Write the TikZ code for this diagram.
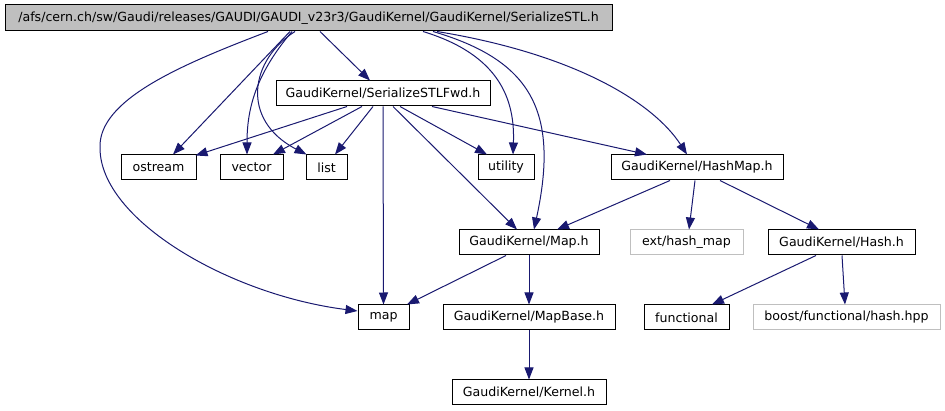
\documentclass[tikz,border=0pt]{standalone}
\usepackage{fontspec}
\setmainfont{DejaVu Sans}
\usetikzlibrary{arrows.meta,calc}
\definecolor{edgeblue}{HTML}{191970}
\definecolor{grayfill}{HTML}{BFBFBF}
\definecolor{graybord}{HTML}{BFBFBF}
\begin{document}
\begin{tikzpicture}[x=1pt,y=-1pt,
  box/.style={draw=black,line width=1pt,inner sep=0pt,minimum height=25pt,font=\fontsize{12.6}{14}\selectfont,anchor=center},
  graybox/.style={box,draw=graybord},
  dep/.style={draw=edgeblue,line width=1pt,-{Triangle[length=12pt,width=9pt]},edgeblue}]
\useasboundingbox (0,0) rectangle (945,411);
\node[box,fill=grayfill,minimum width=607pt,minimum height=26pt] (top) at (308.5,18) {/afs/cern.ch/sw/Gaudi/releases/GAUDI/GAUDI\_v23r3/GaudiKernel/GaudiKernel/SerializeSTL.h};
\node[box,minimum width=214pt] (fwd) at (383,93.5) {GaudiKernel/SerializeSTLFwd.h};
\node[box,minimum width=75pt] (ostream) at (158.5,167.5) {ostream};
\node[box,minimum width=63pt] (vector) at (251.5,167.5) {vector};
\node[box,minimum width=41pt] (list) at (326.5,167.5) {list};
\node[box,minimum width=56pt] (utility) at (506,167.5) {utility};
\node[box,minimum width=172pt] (hashmap) at (697,167.5) {GaudiKernel/HashMap.h};
\node[box,minimum width=140pt] (maph) at (529,242.5) {GaudiKernel/Map.h};
\node[graybox,minimum width=113pt] (ext) at (686.5,242.5) {ext/hash\_map};
\node[box,minimum width=147pt] (hash) at (841.5,242.5) {GaudiKernel/Hash.h};
\node[box,minimum width=51pt] (map) at (383.5,317.5) {map};
\node[box,minimum width=172pt] (mapbase) at (529,317.5) {GaudiKernel/MapBase.h};
\node[box,minimum width=85pt] (functional) at (686.5,317.5) {functional};
\node[graybox,minimum width=187pt] (boost) at (846.5,317.5) {boost/functional/hash.hpp};
\node[box,minimum width=154pt] (kernel) at (529,392.5) {GaudiKernel/Kernel.h};
% from top
\draw[dep] ($(top.south)+(11.5,0)$) -- ($(fwd.north)+(-13,0)$);
\draw[dep] ($(top.south)+(-18.5,0)$) -- ($(ostream.north)+(14.5,0)$);
\draw[dep] ($(top.south)+(-16.5,0)$) .. controls (255,75) and (247,110) .. ($(vector.north)+(-4.5,0)$);
\draw[dep] ($(top.south)+(-13.5,0)$) .. controls (250,60) and (240,120) .. ($(list.north west)+(1,0)$);
\draw[dep] ($(top.south)+(-40.5,0)$) .. controls (180,65) and (98,100) .. (100,148) .. controls (100,220) and (230,295) .. ($(map.west)+(0,-6.5)$);
\draw[dep] ($(top.south)+(114.5,0)$) .. controls (500,55) and (515,100) .. ($(utility.north)+(7,0)$);
\draw[dep] ($(top.south)+(124.5,0)$) .. controls (530,60) and (560,110) .. ($(maph.north)+(5,0)$);
\draw[dep] ($(top.south)+(128.5,0)$) .. controls (580,55) and (655,105) .. ($(hashmap.north)+(-10,0)$);
% from fwd
\draw[dep] ($(fwd.south)+(-36,0)$) -- ($(ostream.north east)+(-1,1)$);
\draw[dep] ($(fwd.south)+(-21,0)$) -- ($(vector.north)+(21.5,0)$);
\draw[dep] ($(fwd.south)+(-10,0)$) -- ($(list.north)+(8.5,0)$);
\draw[dep] (fwd.south) -- (map.north);
\draw[dep] ($(fwd.south)+(10,0)$) -- ($(maph.north)+(-12,0)$);
\draw[dep] ($(fwd.south)+(17,0)$) -- ($(utility.north)+(-19,0)$);
\draw[dep] ($(fwd.south)+(49,0)$) -- ($(hashmap.north)+(-50,0)$);
% from hashmap
\draw[dep] ($(hashmap.south)+(-27,0)$) -- ($(maph.north)+(28,0)$);
\draw[dep] ($(hashmap.south)+(-2,0)$) -- ($(ext.north)+(2.5,0)$);
\draw[dep] ($(hashmap.south)+(23,0)$) -- ($(hash.north)+(-22.5,0)$);
% from map.h
\draw[dep] ($(maph.south)+(-23,0)$) -- ($(map.north)+(23.5,0)$);
\draw[dep] (maph.south) -- (mapbase.north);
% from hash.h
\draw[dep] ($(hash.south)+(-25.5,0)$) -- ($(functional.north)+(25.5,0)$);
\draw[dep] ($(hash.south)+(0.5,0)$) -- ($(boost.north)+(-1.5,0)$);
% mapbase
\draw[dep] (mapbase.south) -- (kernel.north);
\end{tikzpicture}
\end{document}
